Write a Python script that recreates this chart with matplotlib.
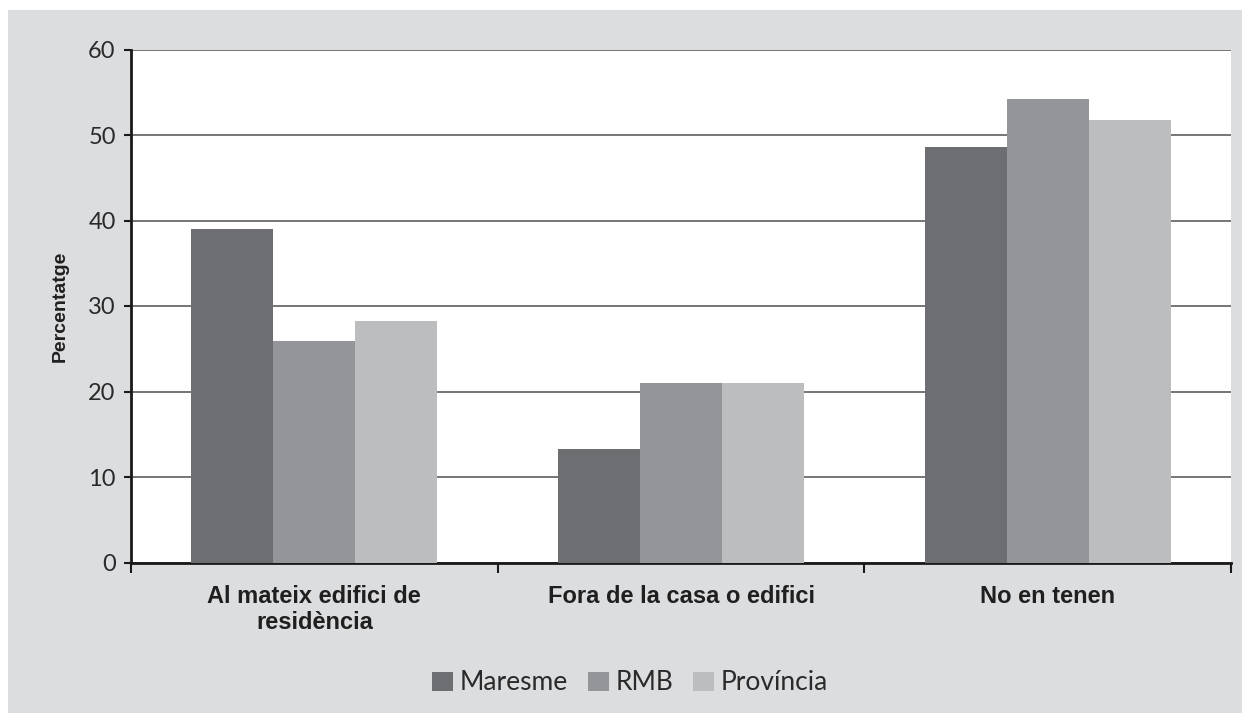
from matplotlib import pyplot as plt
from matplotlib.patches import Rectangle
import numpy as np

categories = ["Al mateix edifici de\nresidència", "Fora de la casa o edifici", "No en tenen"]
series = ["Maresme", "RMB", "Província"]
maresme = [39.0, 13.3, 48.6]
rmb = [25.9, 21.0, 54.2]
provincia = [28.2, 21.0, 51.8]
colors = ["#6d6e71", "#939598", "#bcbdbf"]
yticks = [0, 10, 20, 30, 40, 50, 60]

bg = "#dcdddf"
narrow = ["Liberation Sans", "DejaVu Sans"]

fig = plt.figure(figsize=(12.42, 7.13), dpi=100)
fig.patch.set_facecolor("white")
# gray panel behind the chart
fig.patches.append(Rectangle((8 / 1242, 0), 1, 703 / 713, transform=fig.transFigure,
                             facecolor=bg, edgecolor="none", zorder=-10))

ax = fig.add_axes([131 / 1242, 150.5 / 713, 1100 / 1242, 513 / 713])
ax.set_facecolor("white")

x = np.arange(len(categories))
w = 0.2234
for i, (vals, name) in enumerate(zip([maresme, rmb, provincia], series)):
    ax.bar(x + (i - 1) * w, vals, w, color=colors[i], label=name, zorder=3)

ax.set_xlim(-0.5, 2.5)
ax.set_ylim(0, 60)
ax.set_yticks(yticks)
ax.yaxis.grid(True, color="#6a6a6a", linewidth=1.3, zorder=1)
ax.set_axisbelow(True)

for s in ["top", "right"]:
    ax.spines[s].set_visible(False)
for s in ["left", "bottom"]:
    ax.spines[s].set_color("#1a1a1a")
    ax.spines[s].set_linewidth(2)

ax.tick_params(axis="y", length=5, width=1.5, color="#1a1a1a", pad=6,
               labelsize=17, labelcolor="#2a2a2a", labelfontfamily="Lato")
ax.set_xticks(x)
ax.set_xticklabels(categories, fontfamily=narrow, fontweight="bold", fontsize=17,
                   color="#1f1f1f", linespacing=1.2)
ax.tick_params(axis="x", length=0, pad=16)
ax.set_xticks([-0.5, 0.5, 1.5, 2.5], minor=True)
ax.tick_params(axis="x", which="minor", length=7, width=1.5, color="#1a1a1a")

ax.set_ylabel("Percentatge", fontfamily=narrow, fontweight="bold", fontsize=14,
              color="#1f1f1f", labelpad=14)

leg = fig.legend(loc="center", bbox_to_anchor=(630 / 1242, 1 - 683 / 713), ncol=3,
                 frameon=False, handlelength=0.8, handleheight=0.75,
                 handletextpad=0.25, columnspacing=0.75,
                 prop={"family": "Lato", "size": 19})
for t in leg.get_texts():
    t.set_color("#2a2a2a")

plt.savefig("out.png", dpi=100, facecolor=fig.get_facecolor())
